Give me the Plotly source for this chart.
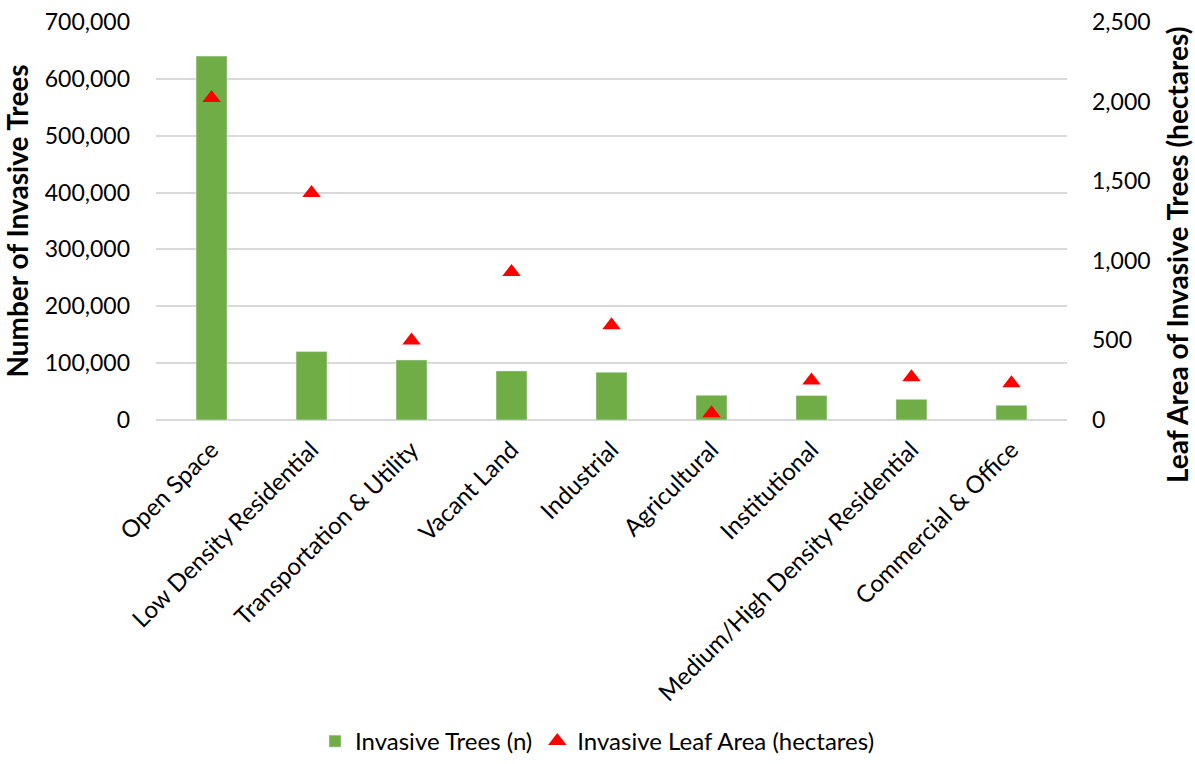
import plotly.graph_objects as go

categories = ["Open Space", "Low Density Residential", "Transportation & Utility",
              "Vacant Land", "Industrial", "Agricultural", "Institutional",
              "Medium/High Density Residential", "Commercial & Office"]
invasive_trees = [640000, 120400, 105600, 86300, 84000, 43500, 43000, 36400, 25900]
leaf_area_ha = [2022, 1426, 499, 930, 595, 42, 248, 268, 231]

FONT = "Lato"
fig = go.Figure()
fig.add_trace(go.Bar(
    x=categories, y=invasive_trees, name="Invasive Trees (n)",
    marker=dict(color="#70AD47"), yaxis="y",
))
fig.add_trace(go.Scatter(
    x=categories, y=leaf_area_ha, name="Invasive Leaf Area (hectares)",
    mode="markers", marker=dict(symbol="triangle-up", color="#FF0000", size=16),
    yaxis="y2",
))

fig.update_layout(
    width=1195, height=764,
    margin=dict(l=156, r=128, t=22, b=344, autoexpand=False),
    paper_bgcolor="white", plot_bgcolor="white",
    font=dict(family=FONT, size=23, color="#000000"),
    bargap=0.69,
    showlegend=True,
    legend=dict(orientation="h", x=0.5, xanchor="center", xref="container",
                y=-0.005, yanchor="bottom", yref="container",
                font=dict(size=24), itemwidth=30, tracegroupgap=0),
    xaxis=dict(tickangle=-45, showgrid=False, showline=False, ticks="",
               ticklabelstandoff=10, tickfont=dict(size=24)),
    yaxis=dict(range=[0, 700000], dtick=100000, tickformat=",",
               showgrid=True, gridcolor="#D9D9D9", gridwidth=1.5,
               zeroline=True, zerolinecolor="#D9D9D9", zerolinewidth=1.5,
               ticks="", ticklabelstandoff=25, tickfont=dict(size=23),
               title=dict(text="<b>Number of Invasive Trees</b>", standoff=8,
                          font=dict(size=28))),
    yaxis2=dict(range=[0, 2500], dtick=500, tickformat=",", overlaying="y",
                side="right", showgrid=False, zeroline=False, ticks="",
                ticklabelstandoff=24, tickfont=dict(size=23)),
    annotations=[dict(
        text="<b>Leaf Area of Invasive Trees (hectares)</b>",
        xref="paper", yref="paper", x=1.1208, y=0.4146,
        xanchor="center", yanchor="middle", textangle=-90,
        showarrow=False, font=dict(size=28, family=FONT, color="#000000"),
    )],
)

fig.write_html("out.html")
